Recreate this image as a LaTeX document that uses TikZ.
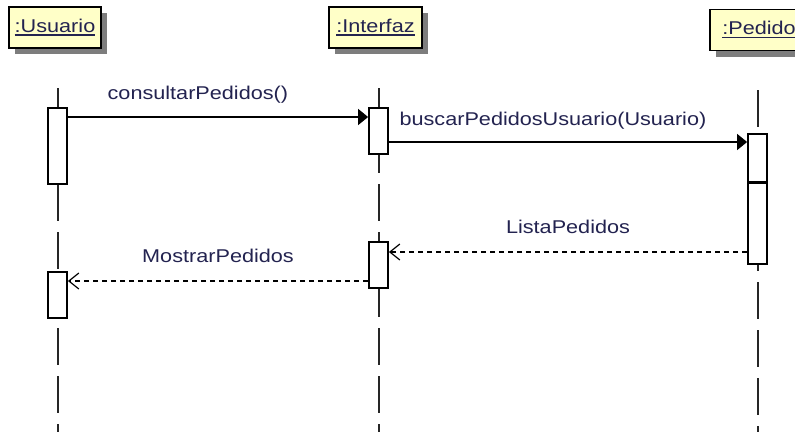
\documentclass[tikz,border=0pt]{standalone}
\usepackage{fontspec}
\setmainfont{Liberation Sans}[FakeStretch=1.17]
\usetikzlibrary{arrows.meta,shadows}
\definecolor{txt}{RGB}{35,35,80}
\definecolor{headfill}{RGB}{255,255,200}
\definecolor{shade}{RGB}{125,125,125}
\newcommand{\myul}[1]{\setbox0\hbox{#1}\rlap{\rule[-3.5pt]{\wd0}{1.5pt}}\box0}
\begin{document}
\begin{tikzpicture}[x=1pt,y=-1pt,
  head/.style={draw=black, line width=1.8pt, fill=headfill, minimum height=41pt, inner sep=0pt,
    font=\fontsize{18.5}{22}\selectfont, text=txt,
    drop shadow={shadow xshift=6pt, shadow yshift=-6pt, fill=shade, opacity=1}},
  act/.style={draw=black, line width=1.8pt, fill=white, minimum width=19pt, inner sep=0pt},
  lifeline/.style={line width=2pt, draw=black!85, dash pattern=on 37pt off 11pt},
  lbl/.style={font=\fontsize{18.5}{22}\selectfont, text=txt, inner sep=0pt},
  sync/.style={line width=1.5pt, -{Triangle[length=10pt,width=16pt]}},
  reply/.style={line width=1.5pt, dash pattern=on 5pt off 4pt, -{Straight Barb[length=10pt,width=16pt,line width=1.2pt]}}
]
\clip (0,0) rectangle (795,432);
\fill[white] (0,0) rectangle (795,432);

% headers
\node[head, minimum width=92pt] (usuario) at (55,27.5) {\myul{:Usuario}};
\node[head, minimum width=93pt] (interfaz) at (375.5,27.5) {\myul{:Interfaz}};
\node[head, minimum width=98pt] (pedido) at (759,30) {\myul{:Pedido}};

% lifelines
\coordinate (ultop) at (57.5,88);  \coordinate (ulbot) at (57.5,432);
\coordinate (iltop) at (378.5,88); \coordinate (ilbot) at (378.5,432);
\coordinate (pltop) at (757.5,90); \coordinate (plbot) at (757.5,432);
\draw[lifeline] (ultop) -- (ulbot);
\draw[lifeline] (iltop) -- (ilbot);
\draw[lifeline] (pltop) -- (plbot);

% activations
\node[act, minimum height=76pt] (ua1) at (57.5,146) {};
\node[act, minimum height=46pt] (ua2) at (57.5,295) {};
\node[act, minimum height=46pt] (ia1) at (378.5,131) {};
\node[act, minimum height=46pt] (ia2) at (378.5,265) {};
\node[act, minimum height=130pt] (pa) at (757.5,199) {};
\coordinate (sep) at (0,182);
\draw[line width=3pt] (pa.west |- sep) -- (pa.east |- sep);

% messages
\coordinate (m1) at (0,117);
\coordinate (m2) at (0,142);
\coordinate (m3) at (0,252);
\coordinate (m4) at (0,281);
\draw[sync] (ua1.east |- m1) -- node[lbl, pos=0.433, yshift=22pt] {consultarPedidos()} (ia1.west |- m1);
\draw[sync] (ia1.east |- m2) -- node[lbl, pos=0.458, yshift=21pt] {buscarPedidosUsuario(Usuario)} (pa.west |- m2);
\draw[reply] (pa.west |- m3) -- node[lbl, pos=0.5, yshift=25pt] {ListaPedidos} (ia2.east |- m3);
\draw[reply] (ia2.west |- m4) -- node[lbl, pos=0.5, yshift=25pt] {MostrarPedidos} (ua2.east |- m4);
\end{tikzpicture}
\end{document}
